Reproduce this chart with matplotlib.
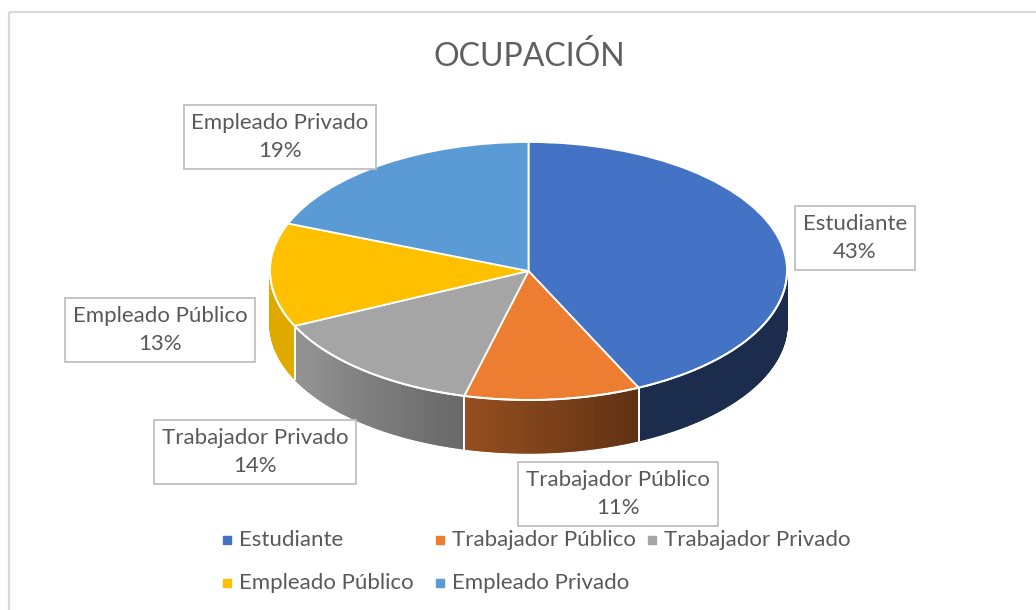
import numpy as np
import matplotlib
matplotlib.use("Agg")
import matplotlib.pyplot as plt
from matplotlib.transforms import Affine2D
from matplotlib.collections import PolyCollection
from matplotlib.patches import Rectangle
import matplotlib.colors as mcolors

# ---------------- data ----------------
categories = ["Estudiante", "Trabajador Público", "Trabajador Privado",
              "Empleado Público", "Empleado Privado"]
values = [43, 11, 14, 13, 19]
colors = ["#4472C4", "#ED7D31", "#A5A5A5", "#FFC000", "#5B9BD5"]
title = "OCUPACIÓN"

# ---------------- layout (pixels) ----------------
W, H = 1036, 610
CX, CY = 528.5, 271.0     # top-face centre
RA, RB = 258.5, 129.0     # ellipse radii
DEPTH = 53.0              # wall height
FONT = "Lato"
TXT = "#595959"

fig = plt.figure(figsize=(W / 100, H / 100), dpi=100)
ax = fig.add_axes([0, 0, 1, 1])

# pie top face (unit pie squashed into an ellipse)
wedges, _ = ax.pie(values, colors=colors, startangle=90, counterclock=False,
                   radius=1, center=(0, 0),
                   wedgeprops=dict(edgecolor="white", linewidth=1.3))
squash = Affine2D().scale(RA, -RB).translate(CX, CY) + ax.transData
for w in wedges:
    w.set_transform(squash)
    w.set_zorder(3)

ax.set_aspect("auto")
ax.set_xlim(0, W)
ax.set_ylim(H, 0)
ax.axis("off")

# side walls
vals = np.array(values, dtype=float)
frac = vals / vals.sum()
cum = np.concatenate([[0], np.cumsum(frac)])
starts = 90 - 360 * cum[:-1]
ends = 90 - 360 * cum[1:]


def shade(tdeg):
    return np.clip(0.40 + 0.0058 * (-64.8 - tdeg), 0.39, 0.88)


for i, (s, e) in enumerate(zip(starts, ends)):
    lo, hi = max(e, -180.0), min(s, 0.0)
    if lo >= hi:
        continue
    n = max(int((hi - lo) * 3), 2)
    ts = np.linspace(hi, lo, n + 1)
    polys, fcs = [], []
    base = np.array(mcolors.to_rgb(colors[i]))
    for t0, t1 in zip(ts[:-1], ts[1:]):
        r0, r1 = np.radians(t0), np.radians(t1)
        x0, y0 = CX + RA * np.cos(r0), CY - RB * np.sin(r0)
        x1, y1 = CX + RA * np.cos(r1), CY - RB * np.sin(r1)
        polys.append([(x0, y0), (x1, y1), (x1, y1 + DEPTH), (x0, y0 + DEPTH)])
        fcs.append(np.clip(base * shade(0.5 * (t0 + t1)), 0, 1))
    pc = PolyCollection(polys, facecolors=fcs, edgecolors=fcs, linewidths=0.9,
                        zorder=1)
    ax.add_collection(pc)
    # white vertical separators at slice boundaries inside the front half
    for t in (s, e):
        if -180 < t < 0:
            r = np.radians(t)
            x, y = CX + RA * np.cos(r), CY - RB * np.sin(r)
            ax.plot([x, x], [y, y + DEPTH], color="white", lw=1.3, zorder=2)

# white highlight along front edge of top face
tt = np.radians(np.linspace(0, -180, 300))
ax.plot(CX + RA * np.cos(tt), CY - RB * np.sin(tt), color="white", lw=1.4,
        zorder=4)

# data labels
label_pos = [(855, 238), (618, 494), (255, 452), (160, 330), (280, 137)]
for cat, v, (lx, ly) in zip(categories, values, label_pos):
    ax.text(lx, ly, f"{cat}\n{v}%", ha="center", va="center", fontsize=16,
            family=FONT, color=TXT, linespacing=1.55, zorder=6,
            bbox=dict(boxstyle="square,pad=0.35", fc="white", ec="#bfbfbf",
                      lw=1.3))

# title
ax.text(529, 56, title, ha="center", va="center", fontsize=23, family=FONT,
        fontweight="normal", color="#5f5f5f", zorder=6)

# legend (manual, Excel-like flow)
leg_pos = [(227, 540), (440, 540), (652, 540), (227, 583), (440, 583)]
for cat, c, (mx, my) in zip(categories, colors, leg_pos):
    ax.plot([mx], [my], marker="s", ms=5.5, color=c, ls="none", zorder=6)
    ax.text(mx + 12, my, cat, ha="left", va="center", fontsize=16,
            family=FONT, color=TXT, zorder=6)

# chart area border
ax.add_patch(Rectangle((9, 12), W + 20, H + 20, fill=False, ec="#d9d9d9",
                       lw=1.6, zorder=0, clip_on=False))

fig.savefig("out.png", dpi=100, facecolor="white")
